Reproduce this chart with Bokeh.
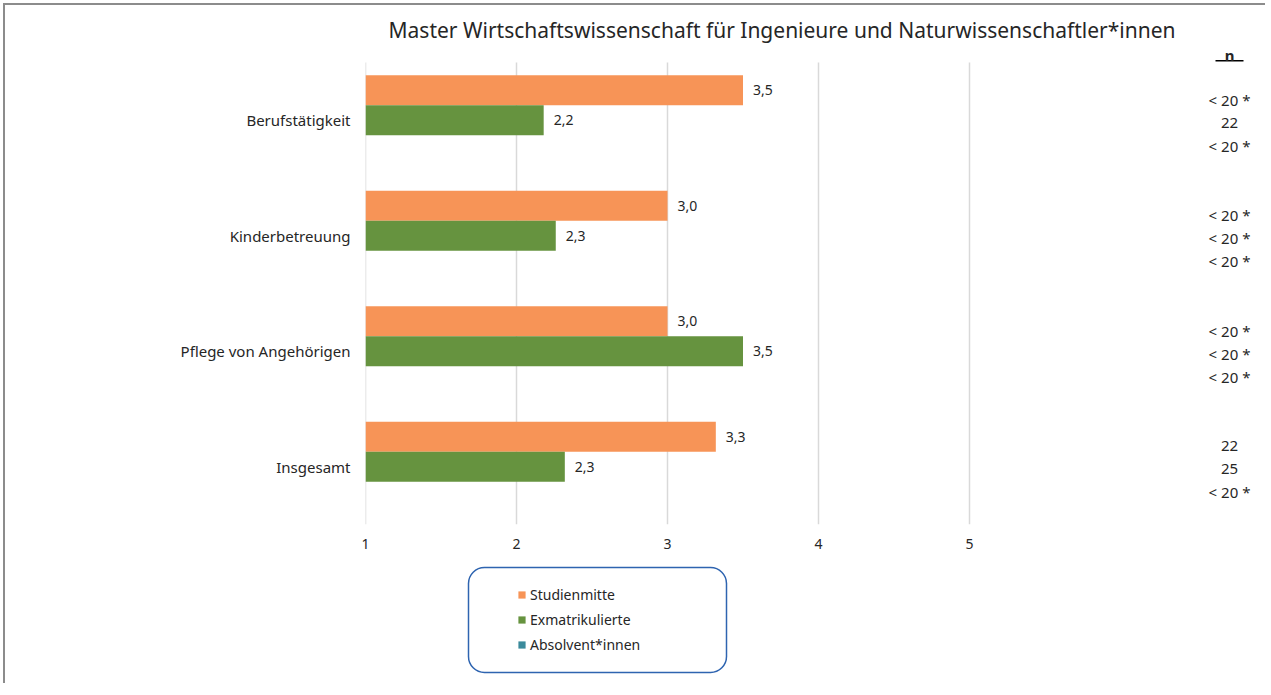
import numpy as np
from bokeh.plotting import figure
from bokeh.layouts import column
from bokeh.models import (ColumnDataSource, FixedTicker, Range1d, LabelSet, Label,
                          Legend, LegendItem, BoxAnnotation)
from bokeh.embed import file_html
from bokeh.resources import INLINE
from bokeh.core.properties import value

title = "Master Wirtschaftswissenschaft für Ingenieure und Naturwissenschaftler*innen"
categories = ["Berufstätigkeit", "Kinderbetreuung", "Pflege von Angehörigen", "Insgesamt"]
series_names = ["Studienmitte", "Exmatrikulierte", "Absolvent*innen"]
studienmitte = [3.5, 3.0, 3.0, 3.32]
exmatrikulierte = [2.18, 2.26, 3.5, 2.32]
absolventen = [None, None, None, None]
n_studienmitte = ["< 20 *", "< 20 *", "< 20 *", "22"]
n_exmatrikulierte = ["22", "< 20 *", "< 20 *", "25"]
n_absolventen = ["< 20 *", "< 20 *", "< 20 *", "< 20 *"]
x_ticks = [1, 2, 3, 4, 5]

colors = ["#F79457", "#66933F", "#3B8A9B"]
FONT = "Noto Sans"
TXT = "#262626"

ypos = np.arange(len(categories))[::-1].astype(float)   # top category first
bar_h = 0.26
offsets = [bar_h, 0.0, -bar_h]
n_offsets = [0.178, -0.022, -0.222]
n_x = 1 + 864 / 151

W = 1260
BL, BR = 360, 7
p = figure(width=W, height=560, output_backend="svg", toolbar_location=None,
           x_range=Range1d(1, 1 + 893 / 151), y_range=Range1d(-0.5, 3.5 + 18 / 115.5),
           min_border_left=BL, min_border_right=BR, min_border_top=39, min_border_bottom=41)
p.outline_line_color = None
p.background_fill_color = "white"
p.border_fill_color = "white"
p.xgrid.visible = False
p.ygrid.visible = False

p.title.text = title
p.title.text_font = FONT
p.title.text_font_size = "21px"
p.title.text_font_style = "normal"
p.title.text_color = TXT
p.title.align = "left"
p.title.offset = 23
p.title.standoff = 2

# vertical grid lines at the ticks
p.segment(x0=x_ticks, x1=x_ticks, y0=[-0.5] * len(x_ticks), y1=[3.5] * len(x_ticks),
          line_color="#d9d9d9", line_width=1.5)

series_vals = [studienmitte, exmatrikulierte, absolventen]
series_n = [n_studienmitte, n_exmatrikulierte, n_absolventen]
sources = []
for vals, col, off, nvals, noff in zip(series_vals, colors, offsets, series_n, n_offsets):
    v = np.array([np.nan if x is None else x for x in vals], dtype=float)
    src = ColumnDataSource(dict(y=ypos + off, right=v))
    sources.append(src)
    p.hbar(y="y", left=1, right="right", height=bar_h, source=src,
           fill_color=col, line_color=None)
    ok = ~np.isnan(v)
    lab_src = ColumnDataSource(dict(x=v[ok], y=(ypos + off)[ok],
                                    t=[f"{x:.1f}".replace(".", ",") for x in v[ok]]))
    p.add_layout(LabelSet(x="x", y="y", text="t", source=lab_src, x_offset=10,
                          text_baseline="middle", text_font=value(FONT),
                          text_font_size="14px", text_color=TXT))
    nsrc = ColumnDataSource(dict(x=[n_x] * len(nvals), y=ypos + noff, t=nvals))
    p.add_layout(LabelSet(x="x", y="y", text="t", source=nsrc, text_align="center",
                          text_baseline="middle", text_font=value(FONT),
                          text_font_size="15px", text_color=TXT))

# n header
p.add_layout(Label(x=n_x, y=3.565, text="n", text_align="center", text_baseline="middle",
                   text_font=FONT, text_font_size="15px", text_font_style="bold", text_color=TXT))
p.segment(x0=[n_x - 14 / 151], x1=[n_x + 14 / 151], y0=[3.515], y1=[3.515],
          line_color="black", line_width=1.5)

# axes
p.xaxis.ticker = FixedTicker(ticks=x_ticks)
p.xaxis.axis_line_color = None
p.xaxis.major_tick_line_color = None
p.xaxis.minor_tick_line_color = None
p.xaxis.major_tick_out = 0
p.xaxis.major_tick_in = 0
p.xaxis.major_label_standoff = 14
p.xaxis.major_label_text_font = FONT
p.xaxis.major_label_text_font_size = "14px"
p.xaxis.major_label_text_color = TXT

p.yaxis.ticker = FixedTicker(ticks=[float(y) for y in ypos])
p.yaxis.major_label_overrides = {float(y): c for y, c in zip(ypos, categories)}
p.yaxis.axis_line_color = None
p.yaxis.major_tick_line_color = None
p.yaxis.minor_tick_line_color = None
p.yaxis.major_tick_out = 0
p.yaxis.major_tick_in = 0
p.yaxis.major_label_standoff = 15
p.yaxis.major_label_text_font = FONT
p.yaxis.major_label_text_font_size = "15px"
p.yaxis.major_label_text_color = TXT

# legend panel (second figure below the chart, frame aligned with the chart's frame)
H2 = 118
FW = W - BL - BR
p2 = figure(width=W, height=H2, output_backend="svg", toolbar_location=None,
            x_range=Range1d(0, FW), y_range=Range1d(0, H2), x_axis_type=None, y_axis_type=None,
            min_border_left=BL, min_border_right=BR, min_border_top=0, min_border_bottom=0)
p2.outline_line_color = None
p2.xgrid.visible = False
p2.ygrid.visible = False
p2.border_fill_color = "white"

box = BoxAnnotation(left=103, right=361, bottom=11, top=116,
                    fill_alpha=0, line_color="#2E64B0", line_alpha=1.0, line_width=1.5,
                    border_radius=16)
p2.add_layout(box)

# legend glyphs reuse the series data; the renderers themselves are hidden in this panel
leg_renderers = [p2.hbar(y="y", left=1, right="right", height=bar_h, source=s,
                         fill_color=c, line_color=None, visible=False)
                 for s, c in zip(sources, colors)]
legend = Legend(items=[LegendItem(label=n, renderers=[r]) for n, r in zip(series_names, leg_renderers)],
                location=(147, 24), orientation="vertical",
                glyph_width=9, glyph_height=9, label_height=20, spacing=5, padding=5,
                label_standoff=4, label_text_font=FONT, label_text_font_size="14px",
                label_text_color=TXT, border_line_alpha=0, background_fill_alpha=0,
                inactive_fill_alpha=0)
p2.add_layout(legend)

layout = column(p, p2, spacing=0)
layout.styles = {"margin-left": "3px", "margin-top": "3px",
                 "border-left": "2px solid #8c8c8c", "border-top": "2px solid #8c8c8c"}

open("out.html", "w").write(file_html(layout, INLINE))
